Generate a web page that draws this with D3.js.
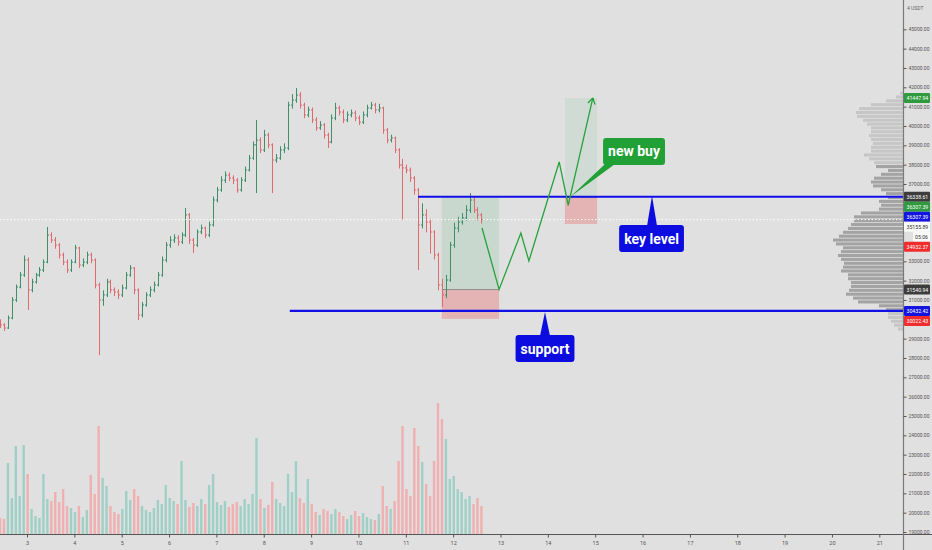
<!DOCTYPE html>
<html>
<head>
<meta charset="utf-8">
<script src="https://cdn.jsdelivr.net/npm/d3@7"></script>
<style>
body { margin: 0; background: #e0e0e0; }
svg { display: block; font-family: Roboto, "DejaVu Sans", sans-serif; }
</style>
</head>
<body>
<svg id="chart" width="932" height="550"></svg>
<script>
// 2h BTC/USDT bars
var startDay = 2.43
var barHours = 2
var firstOpen = 29900
var closes = [29710, 29550, 30070, 31000, 31670, 32290, 33070, 31520, 31930, 32290,
    32550, 32960, 34360, 34100, 33840, 33330, 32960, 32550, 32960, 33690,
    32810, 32960, 33330, 33070, 31775, 31000, 31260, 31930, 31520, 31410,
    31260, 31620, 32290, 32650, 31520, 30220, 30740, 31260, 31520, 31775,
    32290, 33070, 33840, 34100, 34210, 34000, 34360, 35400, 34100, 33840,
    34520, 34720, 34360, 34880, 36170, 36690, 37200, 37460, 37310, 37200,
    36690, 37200, 37720, 38340, 39020, 39270, 38760, 39530, 39020, 38240,
    38340, 38760, 38860, 41080, 41340, 41600, 41080, 40570, 40830, 40310,
    39900, 40050, 39530, 39170, 40410, 40930, 40720, 40310, 40570, 40670,
    40410, 40200, 40570, 40930, 41080, 40830, 40930, 39790, 39270, 39380,
    38760, 37980, 37830, 37720, 37310, 36690, 34880, 35400, 35030, 34520,
    33330, 31775, 31260, 32030, 33840, 34720, 35030, 35240, 35650, 36170,
    35650, 35400, 35155.89]
var highs = [30000, 29800, 30200, 31150, 31800, 32450, 33300, 33200, 32100, 32400,
    32700, 33100, 34780, 34500, 34250, 33950, 33450, 33100, 33100, 33850,
    33750, 33150, 33500, 33450, 33150, 31900, 31500, 32100, 32050, 31650,
    31550, 31800, 32450, 32810, 32700, 31600, 30900, 31400, 31700, 31950,
    32450, 33250, 34000, 34300, 34400, 34350, 34500, 35760, 35500, 34200,
    34650, 34900, 34800, 35050, 36350, 36850, 37400, 37650, 37600, 37450,
    37300, 37350, 37900, 38500, 39200, 40310, 39400, 39800, 39650, 39100,
    38550, 38950, 39100, 41250, 41650, 41960, 41750, 41200, 41000, 40950,
    40450, 40250, 40150, 39650, 40600, 41200, 41050, 40850, 40750, 40850,
    40800, 40550, 40750, 41100, 41250, 41200, 41150, 41000, 39900, 39550,
    39450, 38850, 38300, 38000, 37850, 37400, 36800, 36000, 35700, 35200,
    34600, 33450, 32100, 32300, 34000, 35000, 35300, 35500, 35900, 36530,
    36350, 35800, 35500]
var lows = [29550, 29400, 29500, 30000, 30900, 31600, 32200, 30480, 31400, 31850,
    32200, 32450, 32900, 33950, 33650, 33150, 32800, 32400, 32450, 32900,
    32650, 32700, 32850, 32900, 31600, 28150, 30700, 31150, 31350, 31200,
    31050, 31150, 31550, 32200, 31300, 29960, 30100, 30650, 31150, 31400,
    31700, 32200, 32950, 33700, 33950, 33800, 33900, 34250, 33900, 33430,
    33750, 34400, 34200, 34250, 34800, 36050, 36600, 37050, 37150, 37000,
    36550, 36600, 37100, 37650, 38250, 36530, 38600, 38650, 38850, 36530,
    38100, 38250, 38600, 38750, 40900, 41200, 40900, 40400, 40450, 40150,
    39750, 39800, 39350, 38860, 39100, 40300, 40550, 40150, 40200, 40450,
    40250, 40050, 40100, 40450, 40850, 40650, 40700, 39600, 39100, 39150,
    38600, 37800, 35140, 37550, 37100, 36450, 32550, 34700, 34500, 33400,
    33100, 31500, 30640, 31100, 31950, 33700, 34500, 34900, 35100, 35500,
    35500, 35100, 34950]
var volumes = [1600, 1500, 7100, 3600, 8800, 3800, 8900, 6000, 2500, 1800,
    1600, 6000, 3500, 3300, 4200, 3200, 4500, 2800, 2600, 2200,
    2800, 1700, 2400, 5900, 4000, 10800, 5600, 4800, 2800, 2200,
    2000, 2500, 4300, 3400, 4500, 3800, 2800, 2400, 2200, 2600,
    3400, 3000, 4900, 3600, 3300, 3000, 7300, 3400, 2700, 3100,
    2800, 3500, 3000, 4900, 6000, 3200, 2900, 3300, 2700, 3000,
    3200, 2800, 3500, 3000, 4000, 9600, 3500, 2600, 2900, 5200,
    3500, 3100, 2800, 6000, 4200, 7300, 3600, 3100, 5500, 3000,
    2200, 1900, 2500, 2300, 2000, 2500, 2200, 1800, 1500, 1900,
    2300, 1800, 2100, 1700, 1500, 1400, 2000, 4800, 2800, 2500,
    3300, 7300, 10800, 4500, 3800, 10600, 8800, 7200, 5000, 3800,
    7300, 13100, 11500, 9500, 5500, 5800, 4500, 4200, 3500, 3800,
    3000, 3600, 2800]

// visible range volume profile, 200 USDT rows
var profileStart = 29400
var profileStep = 200
var profileVolumes = [5, 9, 12, 15, 15, 17, 24, 45, 50, 57,
    54, 52, 52, 55, 55, 62, 60, 59, 62, 65,
    62, 60, 67, 70, 64, 60, 55, 52, 49, 49,
    42, 24, 22, 24, 15, 17, 22, 30, 32, 29,
    22, 15, 27, 29, 34, 39, 32, 32, 30, 32,
    34, 32, 32, 36, 40, 46, 47, 44, 32, 17,
    7, 3]
var valueArea = [30400, 38000]

var dayTicks = [3, 4, 5, 6, 7, 8, 9, 10, 11, 12, 13, 14, 15, 16, 17, 18, 19, 20, 21]

// drawn levels
var levelStartDays = [11.26, 8.55]
var levelPrices = [36338.61, 30432.42]

// long positions
var posStartDays = [11.76, 14.36]
var posEndDays = [12.97, 15.04]
var posEntries = [31540.94, 36307.39]
var posStops = [30022.43, 34932.37]
var posTargets = [36307.39, 41447.94]

// projected path
var pathDays = [12.61, 12.97, 13.43, 13.60, 14.24, 14.43, 14.95]
var pathPrices = [34725, 31540.94, 34460, 33020, 38140, 35900, 41447.94]

// callouts
var calloutTexts = ["new buy", "key level", "support"]
var calloutKinds = ["buy", "level", "level"]
var calloutTipDays = [14.47, 16.20, 13.94]
var calloutTipPrices = [36330, 36380, 30380]
var calloutBoxDays = [15.82, 16.19, 13.94]
var calloutBoxPrices = [38680, 34180, 28490]

// price scale labels
var labelTexts = ["41447.94", "36338.61", "36307.39", "36307.39", "35155.89", "05:06", "34932.37", "31540.94", "30432.42", "30022.43"]
var labelPrices = [41447.94, 36338.61, 36307.39, 36307.39, 35155.89, 35155.88, 34932.37, 31540.94, 30432.42, 30022.43]
var labelKinds = ["target", "key", "target", "entry", "last", "timer", "stop", "open", "support", "stop"]

var labelColors = {target: "#2f9a3e", key: "#3c3c3c", entry: "#1414e0", last: "#fafafa",
    timer: "#fafafa", stop: "#f02c2c", open: "#3c3c3c", support: "#1414e0"}
var calloutColors = {buy: "#21a036", level: "#0c0ce0"}
var blue = "#1010e6"

var axisX = 903

function draw() {
    var svg = d3.select("#chart")

    var x = d3.scaleLinear().domain([3, 21]).range([27, 879.3])
    var y = d3.scaleLinear().domain([19000, 45000]).range([532, 29.3])
    var yVol = d3.scaleLinear().domain([0, 14000]).range([534, 394])
    var wProf = d3.scaleLinear().domain([0, 70]).range([0, 70])

    svg.append("rect").attr("width", 932).attr("height", 550).attr("fill", "#e0e0e0")

    svg.append("defs").append("clipPath").attr("id", "plot")
        .append("rect").attr("x", 0).attr("y", 0).attr("width", axisX).attr("height", 534)

    var plot = svg.append("g").attr("clip-path", "url(#plot)")

    // Build bars
    var bars = closes.map(function(c, i) {
        var o = i == 0 ? firstOpen : closes[i - 1]
        return {t: startDay + i * barHours / 24, o: o, h: highs[i], l: lows[i], c: c, v: volumes[i], up: c >= o}
    })

    // Volume profile (behind everything)
    var rowH = y(profileStart) - y(profileStart + profileStep)
    plot.append("g").selectAll("rect").data(profileVolumes).enter().append("rect")
        .attr("x", function(d) { return axisX - wProf(d) })
        .attr("y", function(d, i) { return y(profileStart + (i + 1) * profileStep) + 0.4 })
        .attr("width", function(d) { return wProf(d) })
        .attr("height", rowH - 0.8)
        .attr("fill", function(d, i) {
            var p = profileStart + i * profileStep
            return (p >= valueArea[0] && p < valueArea[1]) ? "#a3a3a3" : "#c6c6c6"
        })

    // Volume bars
    plot.append("g").selectAll("rect").data(bars).enter().append("rect")
        .attr("x", function(d) { return x(d.t) - 1.2 })
        .attr("y", function(d) { return yVol(d.v) })
        .attr("width", 2.4)
        .attr("height", function(d) { return yVol(0) - yVol(d.v) })
        .attr("fill", function(d) { return d.up ? "#9fd0c6" : "#f0afb0" })

    // Position boxes
    for (var k = 0; k < posEntries.length; k++) {
        var x0 = x(posStartDays[k]), x1 = x(posEndDays[k])
        plot.append("rect").attr("x", x0).attr("width", x1 - x0)
            .attr("y", y(posTargets[k])).attr("height", y(posEntries[k]) - y(posTargets[k]))
            .attr("fill", "#26a65b").attr("fill-opacity", k == 0 ? 0.13 : 0.08)
        plot.append("rect").attr("x", x0).attr("width", x1 - x0)
            .attr("y", y(posEntries[k])).attr("height", y(posStops[k]) - y(posEntries[k]))
            .attr("fill", "#f03c3c").attr("fill-opacity", 0.27)
        plot.append("line").attr("x1", x0).attr("x2", x1)
            .attr("y1", y(posEntries[k])).attr("y2", y(posEntries[k]))
            .attr("stroke", "#8f8f8f").attr("stroke-width", 1)
    }

    // OHLC bars
    var g = plot.append("g").attr("stroke-width", 1)
    bars.forEach(function(d) {
        var col = d.up ? "#3f8f6c" : "#df6b6f"
        var cx = Math.round(x(d.t)) + 0.5
        g.append("line").attr("x1", cx).attr("x2", cx).attr("y1", y(d.h)).attr("y2", y(d.l)).attr("stroke", col)
        g.append("line").attr("x1", cx - 1.5).attr("x2", cx).attr("y1", y(d.o)).attr("y2", y(d.o)).attr("stroke", col)
        g.append("line").attr("x1", cx).attr("x2", cx + 1.5).attr("y1", y(d.c)).attr("y2", y(d.c)).attr("stroke", col)
    })

    // Last price dotted line
    var last = closes[closes.length - 1]
    plot.append("line").attr("x1", 0).attr("x2", axisX).attr("y1", y(last)).attr("y2", y(last))
        .attr("stroke", "#ffffff").attr("stroke-width", 1).attr("stroke-dasharray", "1.5,2")

    // Horizontal levels
    levelPrices.forEach(function(p, i) {
        plot.append("line").attr("x1", x(levelStartDays[i])).attr("x2", axisX)
            .attr("y1", y(p)).attr("y2", y(p))
            .attr("stroke", blue).attr("stroke-width", 2.2)
    })

    // Projection path with arrow
    var pts = pathDays.map(function(d, i) { return [x(d), y(pathPrices[i])] })
    plot.append("path").attr("d", d3.line()(pts))
        .attr("fill", "none").attr("stroke", "#27a33b").attr("stroke-width", 1.3)
    var tip = pts[pts.length - 1], prev = pts[pts.length - 2]
    var ang = Math.atan2(tip[1] - prev[1], tip[0] - prev[0])
    ;[-0.55, 0.55].forEach(function(a) {
        plot.append("line").attr("x1", tip[0]).attr("y1", tip[1])
            .attr("x2", tip[0] - 7 * Math.cos(ang + a)).attr("y2", tip[1] - 7 * Math.sin(ang + a))
            .attr("stroke", "#27a33b").attr("stroke-width", 1.3)
    })

    // Callouts
    calloutTexts.forEach(function(t, i) {
        var col = calloutColors[calloutKinds[i]]
        var cg = svg.append("g")
        var txt = cg.append("text").text(t)
            .attr("font-size", 14).attr("font-weight", "bold").attr("fill", "#ffffff")
            .attr("text-anchor", "middle")
        var tw = txt.node().getComputedTextLength()
        var bw = tw + 10, bh = 27
        var bx = x(calloutBoxDays[i]) - bw / 2, by = y(calloutBoxPrices[i]) - bh / 2
        var tx = x(calloutTipDays[i]), ty = y(calloutTipPrices[i])
        var edge = ty > by + bh ? by + bh - 1 : by + 1
        var cx = Math.max(bx + 7, Math.min(bx + bw - 7, tx))
        cg.insert("polygon", "text")
            .attr("points", [[cx - 5, edge], [cx + 5, edge], [tx, ty]].map(function(p) { return p.join(",") }).join(" "))
            .attr("fill", col)
        cg.insert("rect", "text").attr("x", bx).attr("y", by).attr("width", bw).attr("height", bh)
            .attr("rx", 3).attr("fill", col)
        txt.attr("x", bx + bw / 2).attr("y", by + bh / 2 + 5)
    })

    // Time axis
    svg.append("line").attr("x1", 0).attr("x2", 932).attr("y1", 534.5).attr("y2", 534.5)
        .attr("stroke", "#555").attr("stroke-width", 1)
    var xa = svg.append("g").attr("transform", "translate(0,534.5)")
        .call(d3.axisBottom(x).tickValues(dayTicks).tickSize(3).tickPadding(4).tickFormat(d3.format("d")))
    xa.select(".domain").remove()
    xa.selectAll("line").attr("stroke", "#555")
    xa.selectAll("text").attr("font-size", 5.5).attr("fill", "#555").attr("font-family", "Roboto, sans-serif")

    // Price axis
    svg.append("line").attr("x1", axisX + 0.5).attr("x2", axisX + 0.5).attr("y1", 0).attr("y2", 550)
        .attr("stroke", "#7a7a7a").attr("stroke-width", 1.2)

    // stack price labels so they do not overlap
    var order = labelPrices.map(function(p, i) { return i }).sort(function(a, b) { return labelPrices[b] - labelPrices[a] })
    var labelY = []
    var prevY = -100
    order.forEach(function(i) {
        var yy = Math.max(y(labelPrices[i]), prevY + 10)
        labelY[i] = yy
        prevY = yy
    })

    var ticks = d3.range(19000, 45001, 1000).filter(function(p) {
        return labelY.every(function(ly) { return Math.abs(ly - y(p)) >= 7 })
    })
    var ya = svg.append("g").attr("transform", "translate(" + (axisX + 0.5) + ",0)")
        .call(d3.axisRight(y).tickValues(ticks).tickSize(3).tickPadding(2).tickFormat(d3.format(".2f")))
    ya.select(".domain").remove()
    ya.selectAll("line").attr("stroke", "#555")
    ya.selectAll("text").attr("font-size", 5).attr("fill", "#555").attr("font-family", "Roboto, sans-serif")

    svg.append("text").attr("x", 907).attr("y", 10).text("4 USDT")
        .attr("font-size", 5).attr("fill", "#666")

    labelTexts.forEach(function(t, i) {
        var kind = labelKinds[i]
        var light = kind == "last" || kind == "timer"
        var lx = kind == "timer" ? axisX + 10 : axisX + 1
        svg.append("rect").attr("x", lx).attr("y", labelY[i] - 5).attr("width", 930 - lx).attr("height", 10)
            .attr("fill", labelColors[kind]).attr("rx", 1)
        svg.append("text").attr("x", kind == "timer" ? 928 : axisX + 3.5).attr("y", labelY[i] + 2)
            .attr("text-anchor", kind == "timer" ? "end" : "start")
            .attr("font-size", 5.2).attr("fill", light ? "#333" : "#fff").text(t)
    })
}

draw()
</script>
</body>
</html>
